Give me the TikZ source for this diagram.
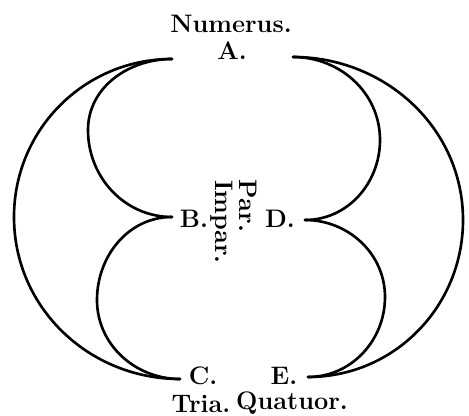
\documentclass[tikz,border=0pt]{standalone}

\begin{document}
\begin{tikzpicture}[
    every node/.style={font=\Large\bfseries},
    lab/.style={font=\Large\bfseries, inner sep=0pt},
    side/.style={font=\Large\bfseries, inner sep=0pt, rotate=-90},
    bow/.style={line width=1.5pt, line cap=round, color=black},
]
\useasboundingbox (0,0) rectangle (9.38,8.32);

% tips of the horns and the outermost points of the bows
\coordinate (a1) at (3.44, 7.14);
\coordinate (a2) at (5.86, 7.18);
\coordinate (b)  at (3.44, 3.98);
\coordinate (d)  at (6.10, 3.92);
\coordinate (c)  at (3.60, 0.74);
\coordinate (e)  at (6.16, 0.78);

\coordinate (lo) at (0.28, 3.98);
\coordinate (ab) at (1.76, 5.72);
\coordinate (bc) at (1.94, 2.32);
\coordinate (ro) at (9.26, 3.92);
\coordinate (ad) at (7.60, 5.52);
\coordinate (de) at (7.70, 2.38);

% ================================================================ labels
\node[lab] (num) at (4.62, 7.84) {Numerus.};
\node[lab] (na)  at (4.64, 7.30) {A.};
\node[lab] (nb)  at (3.88, 3.94) {B.};
\node[lab] (nd)  at (5.60, 3.94) {D.};
\node[lab] (nc)  at (4.06, 0.80) {C.};
\node[lab] (ne)  at (5.68, 0.80) {E.};
\node[lab] (tria) at (4.02, 0.24) {Tria.};
\node[lab] (quat) at (5.84, 0.26) {Quatuor.};

\node[side] (par)   at (4.96, 4.20) {Par.};
\node[side] (impar) at (4.44, 3.88) {Impar.};

% ============================================================== left bows
\draw[bow] (a1) to[out=180, in=90] (lo) to[out=-90, in=180] (c);
\draw[bow] (a1) to[out=180, in=90] (ab) to[out=-90, in=180] (b);
\draw[bow] (b)  to[out=180, in=90] (bc) to[out=-90, in=180] (c);

% ============================================================= right bows
\draw[bow] (a2) to[out=0, in=90] (ro) to[out=-90, in=0] (e);
\draw[bow] (a2) to[out=0, in=90] (ad) to[out=-90, in=0] (d);
\draw[bow] (d)  to[out=0, in=90] (de) to[out=-90, in=0] (e);

\end{tikzpicture}
\end{document}
